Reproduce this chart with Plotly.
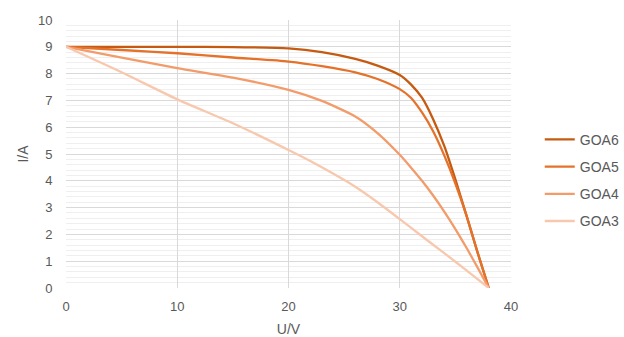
import plotly.graph_objects as go

# Data
u_goa6 = [0, 5, 10, 15, 20, 23, 26, 28, 30, 31, 32, 33, 34, 35, 36, 37, 38]
i_goa6 = [9, 9.0, 9.0, 8.99, 8.94, 8.8, 8.55, 8.3, 7.95, 7.6, 7.1, 6.3, 5.3, 4.05, 2.7, 1.32, 0]

u_goa5 = [0, 5, 10, 15, 20, 23, 26, 28, 30, 31, 32, 33, 34, 35, 36, 37, 38]
i_goa5 = [9, 8.88, 8.76, 8.6, 8.45, 8.28, 8.05, 7.8, 7.42, 7.1, 6.55, 5.85, 4.95, 3.9, 2.7, 1.32, 0]

u_goa4 = [0, 5, 10, 15, 20, 23, 26, 28, 30, 31, 32, 33, 34, 35, 36, 37, 38]
i_goa4 = [9, 8.6, 8.2, 7.85, 7.39, 6.98, 6.4, 5.78, 4.97, 4.5, 4.0, 3.45, 2.85, 2.2, 1.5, 0.76, 0]

u_goa3 = [0, 5, 10, 15, 20, 22, 24, 26, 28, 30, 32, 34, 36, 38]
i_goa3 = [9, 8.05, 7.04, 6.15, 5.15, 4.73, 4.27, 3.78, 3.2, 2.57, 1.93, 1.3, 0.66, 0]

series = [
    ("GOA6", u_goa6, i_goa6, "#C55A11"),
    ("GOA5", u_goa5, i_goa5, "#E5722A"),
    ("GOA4", u_goa4, i_goa4, "#F29B6B"),
    ("GOA3", u_goa3, i_goa3, "#F8C8AE"),
]

fig = go.Figure()
for name, u, i, color in series:
    fig.add_trace(go.Scatter(
        x=u, y=i, name=name, mode="lines", legendgroup=name,
        line=dict(color=color, width=2.3, shape="spline", smoothing=0.6),
    ))

font_color = "#595959"
fig.update_layout(
    width=624, height=337,
    margin=dict(l=66, r=113, t=20, b=49, autoexpand=False),
    paper_bgcolor="white",
    plot_bgcolor="white",
    font=dict(family="Liberation Sans, Arial, sans-serif", size=13, color=font_color),
    legend=dict(
        xref="container", yref="container",
        x=0.865, y=0.465, xanchor="left", yanchor="middle",
        font=dict(size=14, color=font_color),
        tracegroupgap=6, itemwidth=30,
    ),
    showlegend=True,
)
fig.update_xaxes(
    range=[0, 40], tickvals=[0, 10, 20, 30, 40],
    showgrid=True, gridcolor="#D9D9D9", gridwidth=1,
    zeroline=False, showline=False,
    ticks="outside", ticklen=6, tickcolor="rgba(0,0,0,0)",
    tickfont=dict(size=13, color=font_color),
    title=dict(text="U/V", font=dict(size=14, color=font_color), standoff=11),
)
fig.update_yaxes(
    range=[0, 10], dtick=1,
    showgrid=True, gridcolor="#D9D9D9", gridwidth=1,
    minor=dict(dtick=0.2, showgrid=True, gridcolor="#EFEFEF", gridwidth=1),
    zeroline=False, showline=False,
    ticks="outside", ticklen=10, tickcolor="rgba(0,0,0,0)",
    tickfont=dict(size=13, color=font_color),
    title=dict(text="I/A", font=dict(size=14, color=font_color), standoff=6),
)

fig.write_html("out.html")
